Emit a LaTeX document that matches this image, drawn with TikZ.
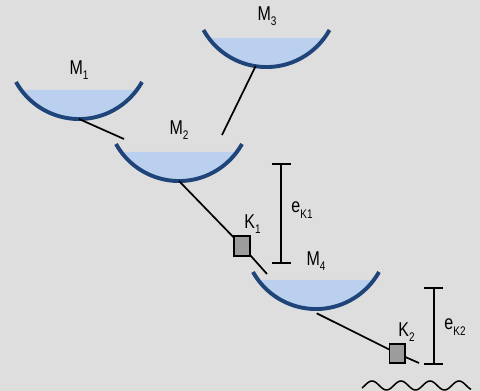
\documentclass[tikz,border=0pt]{standalone}
\usepackage{fontspec}
\setmainfont{Liberation Sans}
\newcommand{\lab}[2]{\scalebox{0.8}[1]{\fontsize{20}{20}\selectfont #1\raisebox{-0.28em}{\fontsize{12.5}{12.5}\selectfont #2}}}
\definecolor{bgc}{HTML}{DEDEDE}
\definecolor{bowl}{HTML}{1F4479}
\definecolor{water}{HTML}{BBD0EE}
\definecolor{boxc}{HTML}{9C9C9C}
\tikzset{
  x=1pt,y=1pt,
  link/.style={black,line width=1.7pt},
  bar/.style={black,line width=1.8pt},
  kbox/.style={draw=black,fill=boxc,line width=1.8pt,minimum width=15.5pt,minimum height=19.5pt,inner sep=0pt,outer sep=0pt},
  txt/.style={inner sep=0pt,outer sep=0pt,text=black},
  mirror/.pic={
    \fill[water] (-57.8,29) arc (216.7:323.3:72.1) -- cycle;
    \draw[bowl,line width=3.9pt] (-63,37) arc (209.1:330.9:72.1);
    \coordinate (-b) at (0,0);
  }
}
\begin{document}
\begin{tikzpicture}
\useasboundingbox (0,0) rectangle (480,391);
\fill[bgc] (0,0) rectangle (480,391);
\pic (m1) at (79,272) {mirror};
\pic (m2) at (179,210) {mirror};
\pic (m3) at (266.5,324) {mirror};
\pic (m4) at (316,82) {mirror};
\node[kbox] (k1) at (242,145) {};
\node[kbox] (k2) at (397.3,37.5) {};
\coordinate (a1) at (124,252);
\coordinate (a2) at (222,256);
\coordinate (a3) at (255.7,325);
\coordinate (a4) at (267,117);
\coordinate (a5) at (419,28);
\coordinate (a6) at (316.7,77.7);
\draw[link] (m1-b) -- (a1);
\draw[link] (a2) -- (a3);
\draw[link] (m2-b) -- (k1);
\draw[link] (k1) -- (a4);
\draw[link] (a6) -- (k2);
\draw[link] (k2) -- (a5);
\coordinate (t1) at (281,227);
\coordinate (b1) at (281,127.7);
\draw[bar] (t1) -- (b1);
\draw[bar] ([xshift=-9.5]t1) -- ([xshift=9.5]t1);
\draw[bar] ([xshift=-9.5]b1) -- ([xshift=9.5]b1);
\coordinate (t2) at (433.7,103);
\coordinate (b2) at (433.7,27.3);
\draw[bar] (t2) -- (b2);
\draw[bar] ([xshift=-9.5]t2) -- ([xshift=9.5]t2);
\draw[bar] ([xshift=-9.5]b2) -- ([xshift=9.5]b2);
\draw[black,line width=1.5pt,domain=362:471,samples=110,smooth] plot (\x,{5.5+4.5*cos((\x-372)/29*360)});
\node[txt] (lm1) at (79,321) {\lab{M}{1}};
\node[txt] (lm2) at (179,261) {\lab{M}{2}};
\node[txt] (lm3) at (267,375) {\lab{M}{3}};
\node[txt] (lm4) at (316,130) {\lab{M}{4}};
\node[txt] (lk1) at (252.5,167) {\lab{K}{1}};
\node[txt] (lk2) at (406.5,59) {\lab{K}{2}};
\node[txt] (le1) at (302,181) {\lab{e}{K1}};
\node[txt] (le2) at (455,64) {\lab{e}{K2}};
\end{tikzpicture}
\end{document}
